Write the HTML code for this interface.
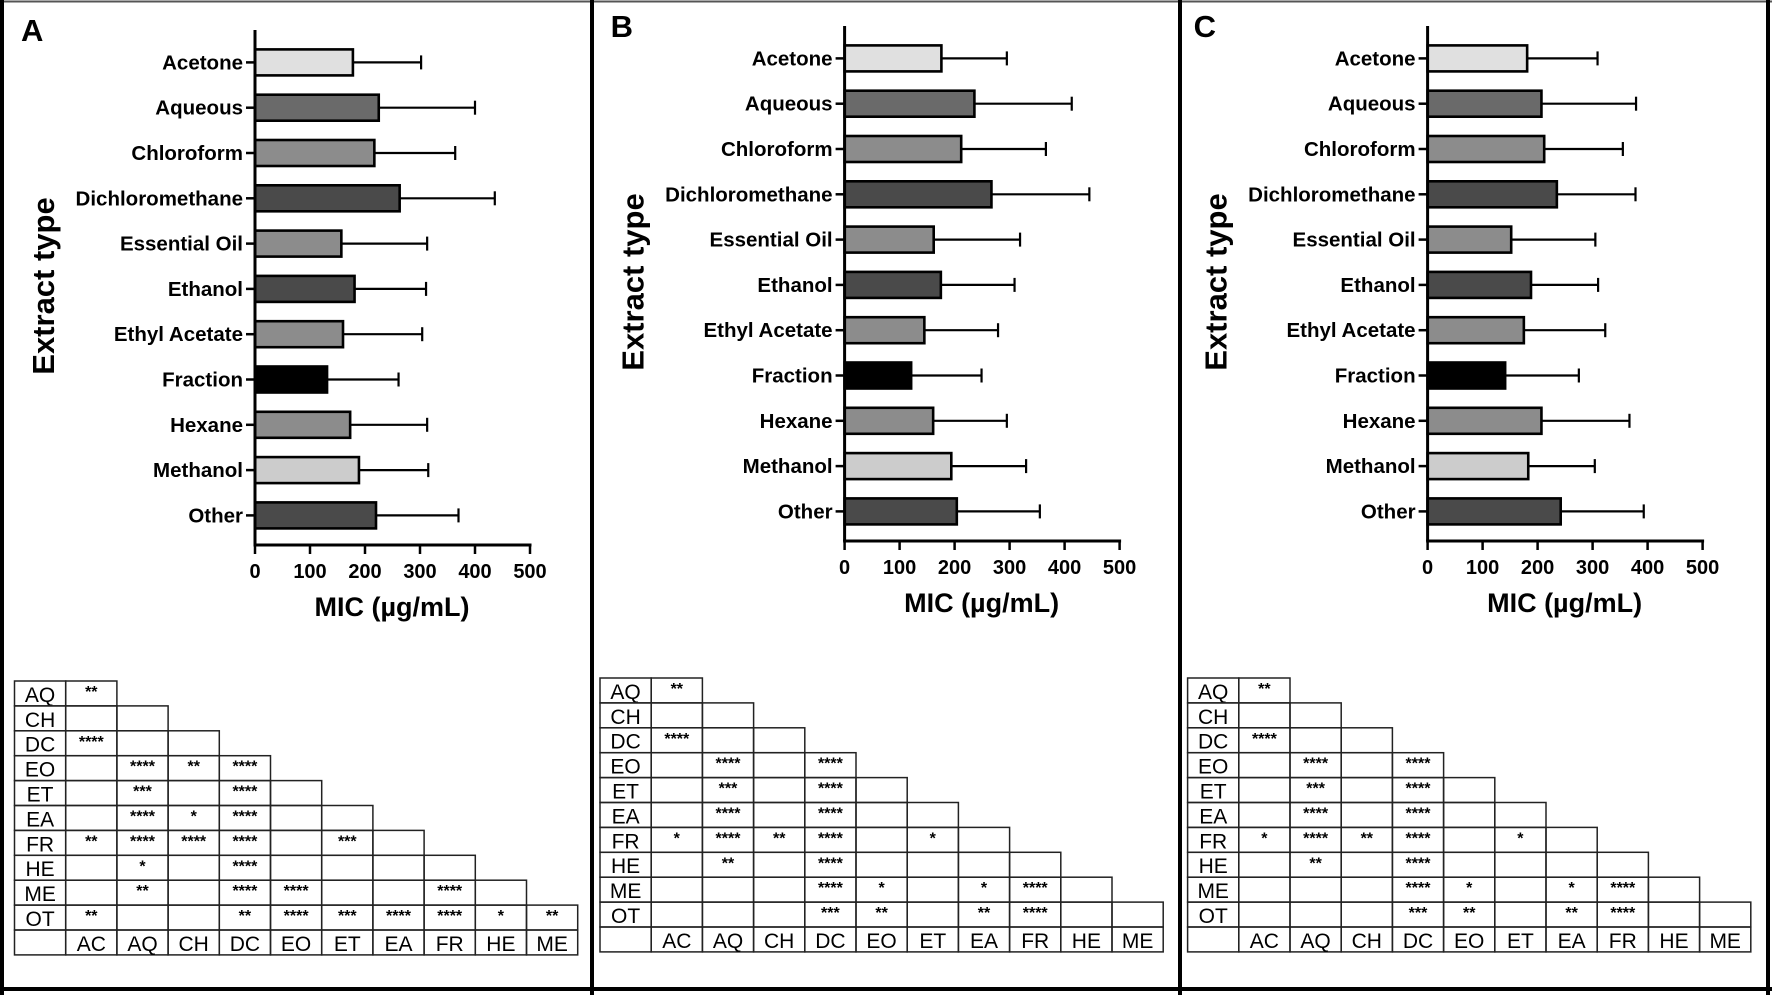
<!DOCTYPE html>
<html><head><meta charset="utf-8"><style>
html,body{margin:0;padding:0;background:#fff;}
svg{display:block;font-family:"Liberation Sans",Arial,sans-serif;}
</style></head><body>
<svg id="fig" width="1772" height="995" viewBox="0 0 1772 995" xmlns="http://www.w3.org/2000/svg">
<g id="frames">
<line x1="0" y1="1.5" x2="1772" y2="1.5" stroke="#555" stroke-width="2"/>
<line x1="0" y1="989" x2="1772" y2="989" stroke="#000" stroke-width="4"/>
<line x1="2" y1="0" x2="2" y2="995" stroke="#000" stroke-width="4"/>
<line x1="592" y1="0" x2="592" y2="995" stroke="#000" stroke-width="4"/>
<line x1="1180" y1="0" x2="1180" y2="995" stroke="#000" stroke-width="4"/>
<line x1="1768" y1="0" x2="1768" y2="995" stroke="#000" stroke-width="4"/>
</g>
</svg>
<script>
const categories = ["Acetone","Aqueous","Chloroform","Dichloromethane","Essential Oil","Ethanol","Ethyl Acetate","Fraction","Hexane","Methanol","Other"];
const fills = ["#e0e0e0","#6a6a6a","#8c8c8c","#4a4a4a","#8c8c8c","#4a4a4a","#8c8c8c","#000000","#8c8c8c","#cccccc","#4a4a4a"];
const meanA = [178,225,217,263,157,181,160,131,173,189,220];
const errA  = [302,400,364,436,313,311,304,261,313,315,370];
const meanB = [176,236,212,267,162,175,145,121,161,194,204];
const errB  = [295,413,366,445,319,309,279,249,295,330,355];
const meanC = [181,207,212,235,152,188,175,141,207,183,242];
const errC  = [309,379,355,378,305,310,323,275,367,304,393];
const xTicks = [0,100,200,300,400,500];
const rowCodes = ["AQ","CH","DC","EO","ET","EA","FR","HE","ME","OT"];
const colCodes = ["AC","AQ","CH","DC","EO","ET","EA","FR","HE","ME"];
const sigA = [
 ["**"],
 ["",""],
 ["****","",""],
 ["","****","**","****"],
 ["","***","","****",""],
 ["","****","*","****","",""],
 ["**","****","****","****","","***",""],
 ["","*","","****","","","",""],
 ["","**","","****","****","","","****",""],
 ["**","","","**","****","***","****","****","*","**"]];
const sigB = [
 ["**"],
 ["",""],
 ["****","",""],
 ["","****","","****"],
 ["","***","","****",""],
 ["","****","","****","",""],
 ["*","****","**","****","","*",""],
 ["","**","","****","","","",""],
 ["","","","****","*","","*","****",""],
 ["","","","***","**","","**","****","",""]];
const sigC = sigB.map(r => r.slice());

const NS = "http://www.w3.org/2000/svg";
const svg = document.getElementById("fig");
function mk(tag, attrs, parent, text){
  const e = document.createElementNS(NS, tag);
  for (const k in attrs) e.setAttribute(k, attrs[k]);
  if (text !== undefined) e.textContent = text;
  parent.appendChild(e);
  return e;
}

function drawPanel(letter, x0, dy, means, errs, tblX, tblY, sig){
  const g = mk("g", {}, svg);
  
  
  const xScale = v => x0 + v * 275 / 500;
  const yScale = i => 62.4 + dy + i * 45.3;
  const axTop = 30 + dy, axBot = 545 + dy;
  const lt = mk("text", {x: x0 - 234, y: 41 + dy, "font-size": 31, "font-weight": "bold"}, g, letter);
  
  
  categories.forEach((c, i) => {
    const y = yScale(i);
    const eb = mk("g", {stroke: "#000", "stroke-width": 2.2}, g);
    
    
    mk("line", {x1: xScale(means[i]), y1: y, x2: xScale(errs[i]), y2: y}, eb);
    mk("line", {x1: xScale(errs[i]), y1: y - 7, x2: xScale(errs[i]), y2: y + 7}, eb);
    const b = mk("rect", {x: xScale(0), y: y - 13, width: xScale(means[i]) - xScale(0), height: 26, fill: fills[i], stroke: "#000", "stroke-width": 2.6}, g);
    
    
    const tk = mk("line", {x1: x0 - 9, y1: y, x2: x0, y2: y, stroke: "#000", "stroke-width": 2.5}, g);
    
    
    const lb = mk("text", {x: x0 - 12, y: y + 7, "font-size": 20.5, "font-weight": "bold", "text-anchor": "end"}, g, c);
    
    
  });
  const ya = mk("line", {x1: x0, y1: axTop, x2: x0, y2: axBot, stroke: "#000", "stroke-width": 3}, g);
  
  
  const xa = mk("line", {x1: x0 - 1.5, y1: axBot, x2: xScale(500) + 1.5, y2: axBot, stroke: "#000", "stroke-width": 3}, g);
  
  
  xTicks.forEach(t => {
    const tk = mk("line", {x1: xScale(t), y1: axBot, x2: xScale(t), y2: axBot + 9, stroke: "#000", "stroke-width": 2.5}, g);
    
    
    const tl = mk("text", {x: xScale(t), y: axBot + 33, "font-size": 20, "font-weight": "bold", "text-anchor": "middle"}, g, String(t));
    
    
  });
  const xt = mk("text", {x: x0 + 137, y: 616 + dy, "font-size": 27, "font-weight": "bold", "text-anchor": "middle"}, g, "MIC (\u00b5g/mL)");
  
  
  const yt = mk("text", {x: 0, y: 0, "font-size": 31, "font-weight": "bold", "text-anchor": "middle", transform: "translate(" + (x0 - 201) + "," + (286 + dy) + ") rotate(-90)"}, g, "Extract type");
  
  

  const tg = mk("g", {}, g);
  
  
  const cw = 51.2, rh = 24.9;
  rowCodes.forEach((r, i) => {
    const y = tblY + i * rh;
    const rc = mk("rect", {x: tblX, y: y, width: cw, height: rh, fill: "none", stroke: "#222", "stroke-width": 1.5}, tg);
    
    
    const rl = mk("text", {x: tblX + cw / 2, y: y + rh - 4, "font-size": 21, "text-anchor": "middle"}, tg, r);
    
    
    for (let j = 0; j <= i; j++) {
      const cx = tblX + (j + 1) * cw;
      const cell = mk("rect", {x: cx, y: y, width: cw, height: rh, fill: "none", stroke: "#222", "stroke-width": 1.5}, tg);
      
      
      const s = sig[i][j];
      if (s) {
        const st = mk("text", {x: cx + cw / 2, y: y + 16, "font-size": 16, "font-weight": "bold", "text-anchor": "middle"}, tg, s);
        
        
      }
    }
  });
  const hy = tblY + rowCodes.length * rh;
  for (let j = 0; j <= colCodes.length; j++) {
    const cx = tblX + j * cw;
    const cell = mk("rect", {x: cx, y: hy, width: cw, height: rh, fill: "none", stroke: "#222", "stroke-width": 1.5}, tg);
    
    
    if (j > 0) {
      const cl = mk("text", {x: cx + cw / 2, y: hy + rh - 4, "font-size": 21, "text-anchor": "middle"}, tg, colCodes[j - 1]);
      
      
    }
  }
}
drawPanel("A", 255, 0, meanA, errA, 14.5, 681, sigA);
drawPanel("B", 844.6, -4, meanB, errB, 600, 678, sigB);
drawPanel("C", 1427.6, -4, meanC, errC, 1187.6, 678, sigC);
</script>
</body></html>
